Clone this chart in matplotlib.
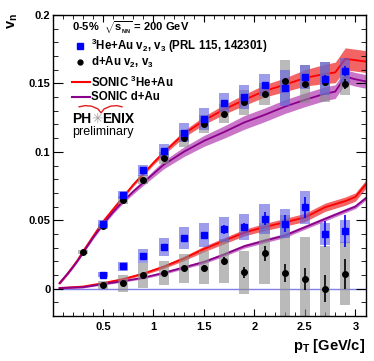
import matplotlib
matplotlib.use("Agg")
from matplotlib import pyplot as plt
from matplotlib.ticker import MultipleLocator, FixedLocator

# measured points, 0-5% central
pt_he = [0.5, 0.7, 0.9, 1.1, 1.3, 1.5, 1.7, 1.9, 2.1, 2.3, 2.5, 2.7, 2.9]
pt_d = [0.3, 0.5, 0.7, 0.9, 1.1, 1.3, 1.5, 1.7, 1.9, 2.1, 2.3, 2.5, 2.7, 2.9]

he_v2 = [0.0473, 0.0686, 0.0866, 0.1008, 0.114, 0.124, 0.1358, 0.1401,
         0.1486, 0.1467, 0.1547, 0.1535, 0.1593]
he_v2_stat = [0.0003, 0.0004, 0.0005, 0.0006, 0.0007, 0.0008, 0.001,
              0.0012, 0.0015, 0.0018, 0.0015, 0.0024, 0.0036]
he_v2_sys = [0.0025, 0.003, 0.004, 0.005, 0.007, 0.008, 0.007, 0.009,
             0.008, 0.013, 0.009, 0.012, 0.009]

d_v2 = [0.0267, 0.0455, 0.0645, 0.0797, 0.0955, 0.1098, 0.1205, 0.1278,
        0.1362, 0.1423, 0.1515, 0.1498, 0.151, 0.1496]
d_v2_stat = [0.0003, 0.0004, 0.0005, 0.0006, 0.0007, 0.0008, 0.0009,
             0.001, 0.0012, 0.0014, 0.0018, 0.0022, 0.003, 0.0039]
d_v2_sys = [0.0012, 0.002, 0.003, 0.0035, 0.0045, 0.006, 0.0065, 0.007,
            0.009, 0.008, 0.0158, 0.014, 0.0143, 0.008]

pt_v3 = [0.5, 0.7, 0.9, 1.1, 1.3, 1.5, 1.7, 1.9, 2.1, 2.3, 2.5, 2.7, 2.9]
he_v3 = [0.0103, 0.0162, 0.0238, 0.0304, 0.0372, 0.0392, 0.0434, 0.0453,
         0.0512, 0.0475, 0.0593, 0.0397, 0.0419]
he_v3_stat = [0.0005, 0.0008, 0.001, 0.0012, 0.0015, 0.002, 0.0033,
              0.0027, 0.005, 0.006, 0.0078, 0.0096, 0.0118]
he_v3_sys = [0.002, 0.003, 0.005, 0.0067, 0.008, 0.0086, 0.009, 0.0094,
             0.011, 0.0104, 0.012, 0.008, 0.0083]

d_v3 = [0.0024, 0.0039, 0.0096, 0.0115, 0.0149, 0.0152, 0.0203, 0.012,
        0.0257, 0.0115, 0.0069, 0.0, 0.011]
d_v3_stat = [0.0007, 0.001, 0.0012, 0.0013, 0.0015, 0.002, 0.003, 0.004,
             0.0054, 0.0067, 0.008, 0.0098, 0.011]
d_v3_sys = [0.003, 0.0064, 0.0092, 0.0088, 0.0107, 0.012, 0.016, 0.0156,
            0.022, 0.042, 0.031, 0.031, 0.023]

# SONIC calculations
sonic_pt = [0.07, 0.15, 0.2, 0.25, 0.3, 0.4, 0.5, 0.6, 0.7, 0.8, 0.9, 1.0,
            1.1, 1.3, 1.5, 1.7, 1.9, 2.1, 2.3, 2.5, 2.7, 2.8, 2.9, 3.0, 3.1]
sonic_he_v2 = [0.004, 0.011, 0.016, 0.021, 0.027, 0.038, 0.049, 0.058,
               0.067, 0.076, 0.084, 0.092, 0.0995, 0.113, 0.123, 0.131,
               0.138, 0.1445, 0.149, 0.154, 0.157, 0.158, 0.168, 0.167,
               0.166]
sonic_he_v2_err = [0.0008, 0.0008, 0.0008, 0.0008, 0.0008, 0.0008, 0.0009,
                   0.001, 0.001, 0.0012, 0.0013, 0.0015, 0.0018, 0.0024,
                   0.003, 0.0035, 0.004, 0.0045, 0.005, 0.006, 0.007,
                   0.0075, 0.008, 0.008, 0.008]
sonic_d_v2 = [0.004, 0.011, 0.0155, 0.0205, 0.026, 0.037, 0.047, 0.056,
              0.064, 0.071, 0.0775, 0.084, 0.0905, 0.1, 0.108, 0.1145,
              0.1215, 0.127, 0.133, 0.138, 0.1425, 0.144, 0.155, 0.153,
              0.1515]
sonic_d_v2_err = [0.0008, 0.0008, 0.0008, 0.0008, 0.0008, 0.0009, 0.001,
                  0.0013, 0.0015, 0.0018, 0.002, 0.0025, 0.003, 0.0035,
                  0.004, 0.0045, 0.005, 0.005, 0.005, 0.005, 0.005, 0.005,
                  0.005, 0.005, 0.005]

sonic_pt_v3 = [0.07, 0.3, 0.5, 0.7, 0.9, 1.1, 1.3, 1.5, 1.7, 1.9, 2.1,
               2.3, 2.5, 2.7, 2.9, 3.0, 3.1]
sonic_he_v3 = [0.0005, 0.0015, 0.004, 0.007, 0.011, 0.016, 0.022, 0.029,
               0.035, 0.041, 0.045, 0.0485, 0.052, 0.0595, 0.064, 0.067,
               0.076]
sonic_he_v3_err = [0.0005, 0.0005, 0.0006, 0.0008, 0.001, 0.0013, 0.0016,
                   0.002, 0.0022, 0.0024, 0.0026, 0.0028, 0.003, 0.003,
                   0.003, 0.003, 0.003]
sonic_d_v3 = [0.0004, 0.001, 0.0033, 0.0055, 0.008, 0.0115, 0.0155,
              0.0195, 0.025, 0.031, 0.035, 0.0388, 0.0449, 0.051, 0.057,
              0.06, 0.066]
sonic_d_v3_err = [0.0005, 0.0005, 0.0006, 0.0007, 0.0008, 0.001, 0.0011,
                  0.0012, 0.0013, 0.0014, 0.0015, 0.0015, 0.0015, 0.0015,
                  0.0015, 0.0015, 0.0015]

BLUE = "#0000ff"
RED = "#ff0000"
PURPLE = "#8a008a"


def band(ax, x, y, err, line_color, fill_color):
    lo = [a - b for a, b in zip(y, err)]
    hi = [a + b for a, b in zip(y, err)]
    ax.fill_between(x, lo, hi, color=fill_color, alpha=0.75, lw=0, zorder=1)
    ax.plot(x, y, color=line_color, lw=1.3, zorder=1.5)


def points(ax, x, y, stat, sys, color, box_color, marker, ms):
    bottoms = [a - b for a, b in zip(y, sys)]
    heights = [2 * b for b in sys]
    ax.bar(x, heights, bottom=bottoms, width=0.1, color=box_color,
           alpha=0.6, lw=0, zorder=2)
    ax.errorbar(x, y, yerr=stat, fmt=marker, color=color, ms=ms,
                elinewidth=1.2, capsize=0, zorder=3)


def main():
    plt.rcParams['font.family'] = ['Liberation Sans', 'DejaVu Sans']
    plt.rcParams['font.weight'] = 'bold'
    plt.rcParams['mathtext.fontset'] = 'custom'
    plt.rcParams['mathtext.rm'] = 'Liberation Sans:bold'
    plt.rcParams['mathtext.it'] = 'Liberation Sans:bold'
    plt.rcParams['mathtext.bf'] = 'Liberation Sans:bold'

    fig = plt.figure(figsize=(3.74, 3.61), dpi=100)
    ax = fig.add_axes([0.1404, 0.1247, 0.8369, 0.8337])

    ax.axhline(0, color="#8080e8", lw=1.0, zorder=0.5)

    band(ax, sonic_pt, sonic_he_v2, sonic_he_v2_err, RED, "#f03030")
    band(ax, sonic_pt, sonic_d_v2, sonic_d_v2_err, PURPLE, "#b848b8")
    band(ax, sonic_pt_v3, sonic_he_v3, sonic_he_v3_err, RED, "#f03030")
    band(ax, sonic_pt_v3, sonic_d_v3, sonic_d_v3_err, PURPLE, "#b848b8")

    points(ax, pt_d, d_v2, d_v2_stat, d_v2_sys, "black", "#8c8c8c", "o", 4)
    points(ax, pt_v3, d_v3, d_v3_stat, d_v3_sys, "black", "#8c8c8c", "o", 4)
    points(ax, pt_he, he_v2, he_v2_stat, he_v2_sys, BLUE, "#5c5ce0", "s", 3.8)
    points(ax, pt_v3, he_v3, he_v3_stat, he_v3_sys, BLUE, "#5c5ce0", "s", 3.8)

    ax.set_xlim(0, 3.1)
    ax.set_ylim(-0.02, 0.2)
    ax.xaxis.set_major_locator(FixedLocator([0.5, 1, 1.5, 2, 2.5, 3]))
    ax.xaxis.set_minor_locator(MultipleLocator(0.1))
    ax.yaxis.set_major_locator(FixedLocator([0, 0.05, 0.1, 0.15, 0.2]))
    ax.yaxis.set_minor_locator(MultipleLocator(0.01))
    ax.set_xticklabels(["0.5", "1", "1.5", "2", "2.5", "3"])
    ax.set_yticklabels(["0", "0.05", "0.1", "0.15", "0.2"])
    ax.tick_params(which='both', direction='in', top=True, right=True,
                   labelsize=8)
    ax.tick_params(axis='x', which='major', length=5, pad=4)
    ax.tick_params(axis='x', which='minor', length=2.8)
    ax.tick_params(axis='y', which='major', length=7, pad=1.5)
    ax.tick_params(axis='y', which='minor', length=3.5)
    for s in ax.spines.values():
        s.set_linewidth(1.0)

    fig.text(0.033, 0.965, r"v$_{n}$", rotation=90, ha='center', va='top',
             fontsize=10.5)
    fig.text(0.977, 0.03, r"p$_{T}$ [GeV/c]", ha='right', va='baseline',
             fontsize=10.5)

    # legend, drawn by hand like the original
    tr = ax.transAxes
    fs = 8.3
    ax.text(0.062, 0.958, r"0-5%  $\sqrt{s_{_{NN}}}$ = 200 GeV", transform=tr,
            fontsize=8, va='center')
    ax.plot([0.088], [0.898], "s", color=BLUE, ms=3.8, transform=tr)
    ax.text(0.123, 0.898, r"$^{3}$He+Au v$_{2}$, v$_{3}$ (PRL 115, 142301)",
            transform=tr, fontsize=fs, va='center')
    ax.plot([0.088], [0.844], "o", color="black", ms=3.5, transform=tr)
    ax.text(0.123, 0.844, r"d+Au v$_{2}$, v$_{3}$", transform=tr,
            fontsize=fs, va='center')
    ax.plot([0.062, 0.120], [0.777, 0.777], color=RED, lw=1.5, transform=tr)
    ax.text(0.123, 0.777, r"SONIC $^{3}$He+Au", transform=tr, fontsize=fs,
            va='center')
    ax.plot([0.062, 0.120], [0.728, 0.728], color=PURPLE, lw=1.5,
            transform=tr)
    ax.text(0.123, 0.728, "SONIC d+Au", transform=tr, fontsize=fs,
            va='center')

    # PHENIX logo
    ax.plot([0.085, 0.105, 0.125, 0.145, 0.155, 0.165, 0.185, 0.205, 0.222],
            [0.695, 0.699, 0.697, 0.688, 0.675, 0.688, 0.697, 0.699, 0.695],
            color="#e02020", lw=1.0, transform=tr)
    ax.text(0.062, 0.655, "PH", transform=tr, fontsize=10, va='center')
    ax.text(0.124, 0.655, "\u2733", transform=tr, fontsize=10, va='center',
            color="#a0a0a0", family=['DejaVu Sans'])
    ax.text(0.160, 0.655, "ENIX", transform=tr, fontsize=10, va='center')
    ax.text(0.062, 0.612, "preliminary", transform=tr, fontsize=9,
            va='center', weight='normal')

    fig.savefig("out.png", dpi=100)


if __name__ == "__main__":
    main()
